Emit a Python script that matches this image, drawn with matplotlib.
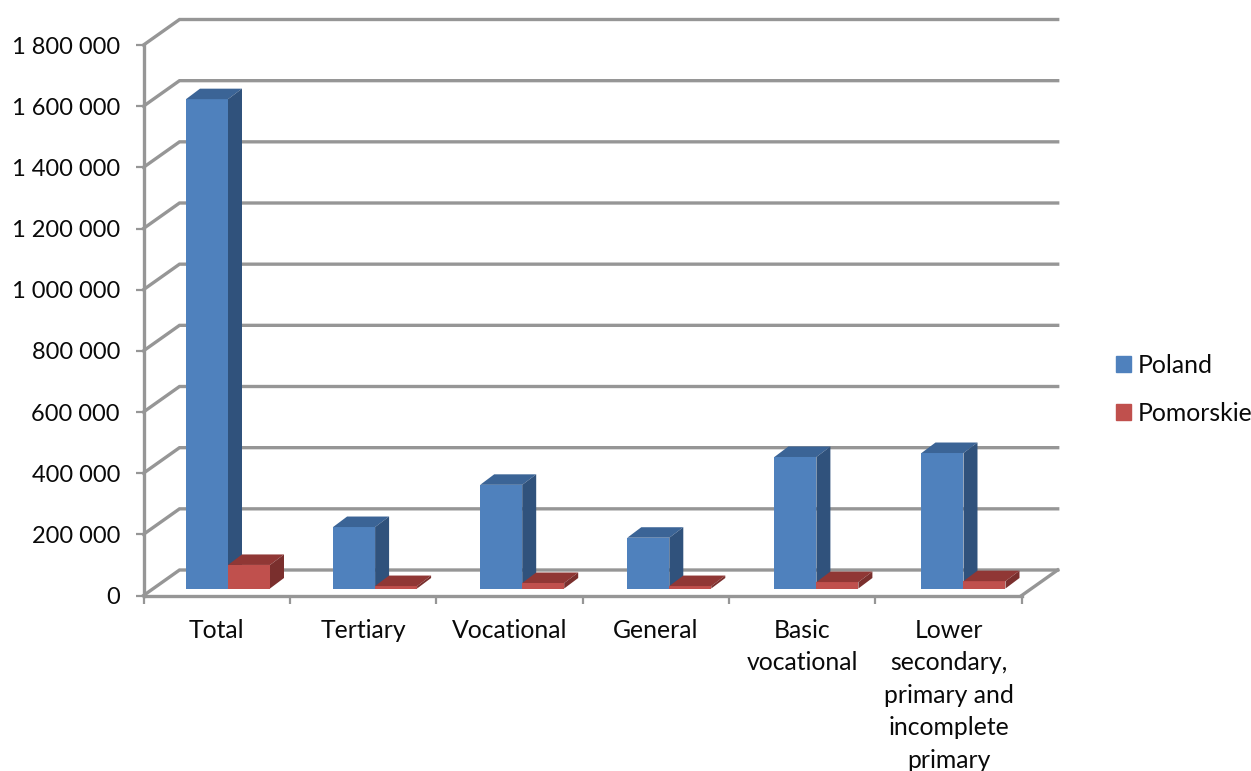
import numpy as np
import matplotlib
matplotlib.use('Agg')
import matplotlib.pyplot as plt
from matplotlib.patches import Patch

plt.rcParams['font.family'] = ['Lato', 'DejaVu Sans']

categories = ['Total', 'Tertiary', 'Vocational', 'General', 'Basic\nvocational',
              'Lower\nsecondary,\nprimary and\nincomplete\nprimary']
poland = [1600000, 201000, 339000, 166000, 430000, 443000]
pomorskie = [77000, 8000, 18000, 8000, 21000, 24000]
yticks = [0, 200000, 400000, 600000, 800000, 1000000, 1200000, 1400000, 1600000, 1800000]
ylabels = ['0', '200 000', '400 000', '600 000', '800 000', '1 000 000',
           '1 200 000', '1 400 000', '1 600 000', '1 800 000']

W, H = 1251, 771
GRAY = '#969696'
TEXT = '#0a0a0a'
BLUE, BLUE_TOP, BLUE_SIDE = '#4f81bd', '#3b6496', '#30527c'
RED, RED_TOP, RED_SIDE = '#c0504d', '#903735', '#7a2f2d'

fig = plt.figure(figsize=(W / 100, H / 100), dpi=100)
# axes box in pixels: x 143.5..1021.7, y 45..595.5
ax = fig.add_axes([143.5 / W, 1 - 595.5 / H, 878.2 / W, 550.5 / H])
ax.set_xlim(0, 6)
ax.set_ylim(0, 1800000)

# pixel sizes in data units
px = 6 / 878.2
py = 1800000 / 550.5


def box(x, w, val, base, color, top, side):
    # front face plus the two faces that show the depth
    dx, dy = 14 * px, 10.5 * py
    ax.bar(x, val, w, bottom=base, align='edge', color=color, zorder=5, clip_on=False)
    y1 = base + val
    ax.fill([x, x + dx, x + w + dx, x + w], [y1, y1 + dy, y1 + dy, y1], color=top, lw=0, zorder=5, clip_on=False)
    ax.fill([x + w, x + w + dx, x + w + dx, x + w], [base, base + dy, y1 + dy, y1], color=side, lw=0, zorder=5, clip_on=False)


# back wall lines and the floor
back_x, back_y = 36 * px, 25.5 * py
for v in yticks:
    ax.plot([0, back_x, 6 + back_x], [v, v + back_y, v + back_y], color=GRAY, lw=2.4, zorder=1,
            clip_on=False, solid_joinstyle='miter')
ax.plot([6, 6 + back_x], [0, back_y], color=GRAY, lw=2.4, zorder=1, clip_on=False)

x = np.arange(len(categories))
bar_w = 42 * px
start = 42.5 * px
step = 1.005  # bars sit slightly wider apart than the axis ticks
base = 7 * py
for i in x:
    box(i * step + start, bar_w, poland[i], base, BLUE, BLUE_TOP, BLUE_SIDE)
for i in x:
    box(i * step + start + bar_w, bar_w, pomorskie[i], base, RED, RED_TOP, RED_SIDE)

for s in ['top', 'right']:
    ax.spines[s].set_visible(False)
for s in ['left', 'bottom']:
    ax.spines[s].set_color(GRAY)
    ax.spines[s].set_linewidth(2.4)

ax.set_yticks(yticks, ylabels)
ax.set_xticks(np.arange(7), [''] * 7)
ax.set_xticks(x + 0.5, categories, minor=True)
ax.tick_params(axis='y', length=6, width=1.6, color=GRAY, labelsize=17, pad=11, labelcolor=TEXT)
ax.tick_params(axis='x', which='major', length=6, width=1.6, color=GRAY)
ax.tick_params(axis='x', which='minor', length=0, labelsize=17.8, pad=16.8, labelcolor=TEXT)
for lab in ax.get_xticklabels(minor=True):
    lab.set_linespacing(1.5)

ax.legend(handles=[Patch(color=BLUE, label='Poland'), Patch(color=RED, label='Pomorskie')],
          loc='center left', bbox_to_anchor=(1116 / W, 1 - 389.5 / H), bbox_transform=fig.transFigure,
          frameon=False, fontsize=17.8, handlelength=0.6, handleheight=0.62, handletextpad=0.3,
          labelspacing=1.0, labelcolor=TEXT, borderpad=0, borderaxespad=0)

fig.savefig('out.png', dpi=100)
